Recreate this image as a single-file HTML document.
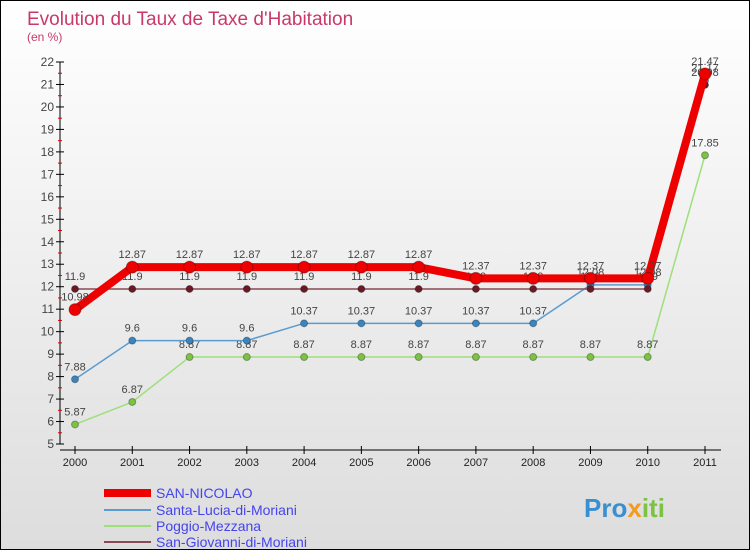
<!DOCTYPE html>
<html><head><meta charset="utf-8"><style>
body{margin:0;width:750px;height:550px;overflow:hidden;font-family:"Liberation Sans",sans-serif}
#wrap{position:relative;width:748px;height:548px;border:1px solid #000;background:linear-gradient(#fff,#ddd)}
</style></head><body>
<div id="wrap">
<svg id="chart" width="748" height="548">
<text x="26" y="24" font-size="19" fill="#c8396a">Evolution du Taux de Taxe d'Habitation</text>
<text x="26" y="40" font-size="12" fill="#c8396a">(en %)</text>
<g id="axes"></g><g id="series"></g>
<g>
<line x1="103" y1="492" x2="150" y2="492" stroke="#e00" stroke-width="8"/>
<text x="155" y="497" font-size="14" fill="#44e">SAN-NICOLAO</text>
<line x1="103" y1="509" x2="150" y2="509" stroke="#5a9bd0" stroke-width="2"/>
<text x="155" y="514" font-size="14" fill="#44e">Santa-Lucia-di-Moriani</text>
<line x1="103" y1="525" x2="150" y2="525" stroke="#9de07a" stroke-width="2"/>
<text x="155" y="530" font-size="14" fill="#44e">Poggio-Mezzana</text>
<line x1="103" y1="541" x2="150" y2="541" stroke="#8a4a55" stroke-width="2"/>
<text x="155" y="546" font-size="14" fill="#44e">San-Giovanni-di-Moriani</text>
</g>
<text x="583" y="516" font-size="26" font-weight="bold" fill="#3a8fd0">Pro<tspan fill="#f39a1f">x</tspan><tspan fill="#7cc243">iti</tspan></text>
</svg></div>
<script>
const years=[2000,2001,2002,2003,2004,2005,2006,2007,2008,2009,2010,2011];
const yTicks=[5,6,7,8,9,10,11,12,13,14,15,16,17,18,19,20,21,22];
const sanNicolao=[10.98,12.87,12.87,12.87,12.87,12.87,12.87,12.37,12.37,12.37,12.37,21.47];
const santaLucia=[7.88,9.6,9.6,9.6,10.37,10.37,10.37,10.37,10.37,12.08,12.08,21.17];
const poggio=[5.87,6.87,8.87,8.87,8.87,8.87,8.87,8.87,8.87,8.87,8.87,17.85];
const sanGiovanni=[11.9,11.9,11.9,11.9,11.9,11.9,11.9,11.9,11.9,11.9,11.9,20.98];
const NS="http://www.w3.org/2000/svg";
const X=i=>74+i*(630/11), Y=v=>443-(v-5)*(382/17);
function mk(t,a,p){const e=document.createElementNS(NS,t);for(const k in a)e.setAttribute(k,a[k]);p.appendChild(e);return e;}
const ax=document.getElementById('axes');
const yl=mk('line',{x1:59,y1:Y(22),x2:59,y2:Y(5),stroke:'#000'},ax);


yTicks.forEach(v=>{
 mk('line',{x1:55,y1:Y(v),x2:63,y2:Y(v),stroke:'#000'},ax);
 if(v<22)mk('line',{x1:57,y1:Y(v+0.5),x2:61,y2:Y(v+0.5),stroke:'#d00'},ax);
 const t=mk('text',{x:53,y:Y(v)+4,'font-size':12,fill:'#444','text-anchor':'end'},ax);t.textContent=v;
 
 
});
const xl=mk('line',{x1:59,y1:449,x2:720,y2:449,stroke:'#000'},ax);


years.forEach((y,i)=>{
 mk('line',{x1:X(i),y1:445,x2:X(i),y2:453,stroke:'#000'},ax);
 const t=mk('text',{x:X(i),y:465,'font-size':11,fill:'#222','text-anchor':'middle'},ax);t.textContent=y;
 
 
});
const sg=document.getElementById('series');
function draw(d,col,w,r,fill,name){
 const g=mk('g',{},sg);
 
 
 mk('polyline',{points:d.map((v,i)=>X(i)+','+Y(v)).join(' '),fill:'none',stroke:col,'stroke-width':w,'stroke-linejoin':'round'},g);
 d.forEach((v,i)=>{
  const c=mk('circle',{cx:X(i),cy:Y(v),r:r,fill:fill,stroke:'rgba(0,0,0,0.3)'},g);
  
  
  const t=mk('text',{x:X(i),y:Y(v)-9,'font-size':11,fill:'#444','text-anchor':'middle'},g);t.textContent=v;
 });
}
draw(poggio,'#9de07a',1.5,3.5,'#7cc243','series-poggio');
draw(santaLucia,'#5a9bd0',1.5,3.5,'#3a85c0','series-santa-lucia');
draw(sanGiovanni,'#8a4a55',1.5,3.5,'#6a1a25','series-san-giovanni');
draw(sanNicolao,'#e00',8,6,'#e00','series-san-nicolao');
</script></body></html>
